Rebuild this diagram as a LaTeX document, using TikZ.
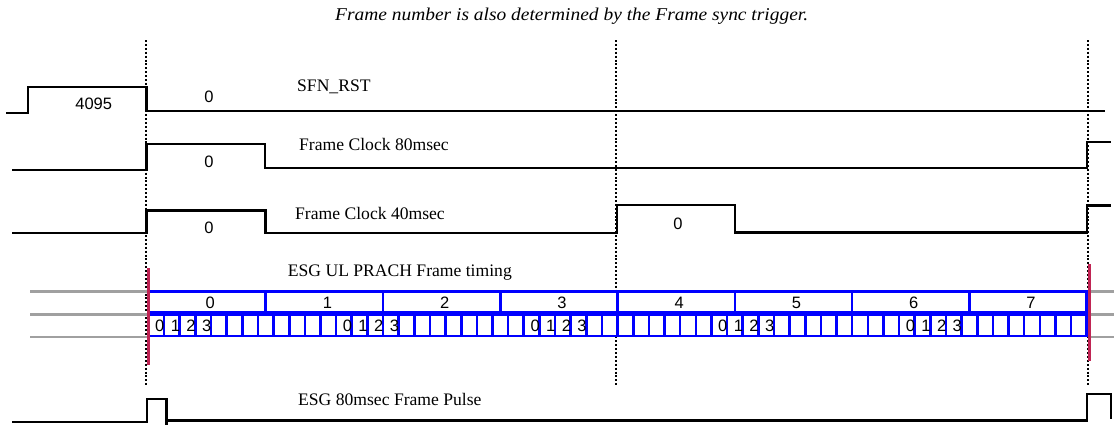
\documentclass[tikz,border=0pt]{standalone}
\usepackage{fontspec}
\setmainfont{Liberation Serif}
\newfontfamily\arialf{Liberation Sans}
\definecolor{barred}{RGB}{192,36,84}
\definecolor{gridgrey}{RGB}{160,160,160}
\begin{document}
\begin{tikzpicture}[x=1pt,y=-1pt,
  sig/.style={line width=2.1pt, line join=miter, line cap=butt},
  dots/.style={line width=2pt, dash pattern=on 2pt off 1.9pt},
  gridl/.style={line width=2.4pt, draw=gridgrey},
  bluebox/.style={draw=blue, line width=2.6pt},
  redbar/.style={draw=barred, line width=3pt},
  lab/.style={font=\fontsize{17.6}{20}\selectfont, inner sep=0pt, anchor=base west},
  num/.style={font=\arialf\fontsize{16.5}{18}\selectfont, inner sep=0pt},
]
\useasboundingbox (0,0) rectangle (1114,426);

% title
\node[inner sep=0pt, anchor=base west] (title) at (335,20.5) {\scalebox{1.08}[1]{\itshape\fontsize{18}{20}\selectfont Frame number is also determined by the Frame sync trigger.}};

% dotted frame markers
\foreach \x in {146,616,1088} \draw[dots] (\x,40) -- (\x,386);

% grey guide lines
\foreach \y in {291.5,314.5,336.8} {
  \draw[gridl] (30,\y) -- (147,\y);
  \draw[gridl] (1090,\y) -- (1114,\y);
}

% SFN_RST
\draw[sig] (6,112.7) -- (28,112.7) -- (28,87.3) -- (146.5,87.3) -- (146.5,110.7) -- (1105,110.7);
% Frame Clock 80msec
\draw[sig] (12,170) -- (146.5,170) -- (146.5,144.3) -- (265,144.3) -- (265,167.7) -- (1087,167.7) -- (1087,141.7) -- (1111,141.7);
% Frame Clock 40msec
\draw[sig] (12,233) -- (146.5,233) -- (146.5,210.5) -- (265.5,210.5) -- (265.5,232.7) -- (616.7,232.7) -- (616.7,205.3) -- (735,205.3) -- (735,232.5) -- (1087,232.5) -- (1087,205.5) -- (1111,205.5);
% ESG 80msec Frame Pulse
\draw[sig] (12,422.3) -- (146.7,422.3) -- (146.7,399) -- (166.5,399) -- (166.5,424.5);
\draw[sig] (166.5,420.5) -- (1086.7,420.5) -- (1086.7,394.3) -- (1110.7,394.3) -- (1110.7,419);

% PRACH frame boxes
\draw[bluebox, fill=white] (148.5,291.2) rectangle (1086.7,312.5);
\draw[bluebox, fill=white] (148.5,314.5) rectangle (1086.7,336);
\foreach \i in {1,...,7} \draw[bluebox] ({148.5+\i*117.275},291.2) -- ++(0,21.3);
\foreach \i in {1,...,59} \draw[bluebox] ({148.5+\i*15.637},314.5) -- ++(0,21.5);
\foreach \i in {0,...,7} \node[num] (f\i) at ({148.5+\i*117.275+58.64+3},302.5) {\i};
\foreach \g in {0,...,4} \foreach \k in {0,...,3}
  \node[num] (s\g\k) at ({148.5+(\g*12+\k)*15.637+7.8+3.5},326) {\k};

% red markers
\draw[redbar] (148.3,268) -- (148.3,365);
\draw[redbar] (1089.3,264) -- (1089.3,361);

% values
\node[num] (v4095) at (93.7,104) {4095};
\node[num] (vsfn) at (209,96.7) {0};
\node[num] (v80) at (209,162.3) {0};
\node[num] (v40a) at (209,228.3) {0};
\node[num] (v40b) at (678,224) {0};

% signal names
\node[lab] (nsfn) at (297,91.7) {SFN\_RST};
\node[lab] (n80) at (299,150) {Frame Clock 80msec};
\node[lab] (n40) at (295,219.3) {Frame Clock 40msec};
\node[lab] (nprach) at (287.7,276) {ESG UL PRACH Frame timing};
\node[lab] (npulse) at (298,405) {ESG 80msec Frame Pulse};
\end{tikzpicture}
\end{document}
